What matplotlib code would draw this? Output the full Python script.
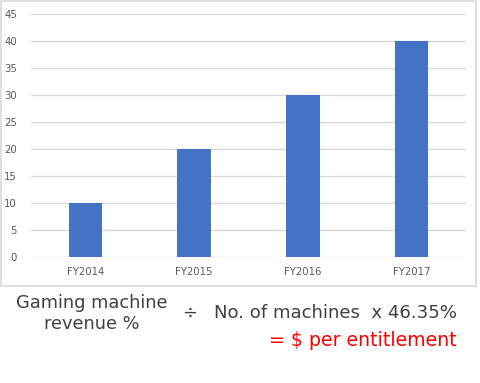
import matplotlib
matplotlib.use("Agg")
import matplotlib.pyplot as plt
from matplotlib.patches import Rectangle

categories = ["FY2014", "FY2015", "FY2016", "FY2017"]
values = [10, 20, 30, 40]
yticks = [0, 5, 10, 15, 20, 25, 30, 35, 40, 45]

W, H = 480, 383
fig = plt.figure(figsize=(W / 100, H / 100), dpi=100)
fig.patch.set_facecolor("white")

# chart border
fig.add_artist(Rectangle((1 / W, 1 - 286 / H), 475 / W, 285 / H, transform=fig.transFigure,
                         fill=False, edgecolor="#d9d9d9", linewidth=1.2))

ax = fig.add_axes([31 / W, 1 - 257 / H, 435 / W, 243 / H])
x = list(range(len(categories)))
ax.bar(x, values, width=0.31, color="#4472c4", zorder=3)
ax.set_xlim(-0.5, len(categories) - 0.5)
ax.set_ylim(0, 45)
ax.set_yticks(yticks)
ax.set_xticks(x)
ax.set_xticklabels(categories)
ax.yaxis.grid(True, color="#d9d9d9", linewidth=1)
for s in ax.spines.values():
    s.set_visible(False)
ax.tick_params(axis="both", length=0, labelsize=7.3, labelcolor="#595959")
ax.tick_params(axis="y", pad=10)
ax.tick_params(axis="x", pad=7)

tc = "#404040"
fs = 12.8
fig.text(92 / W, 1 - 303 / H, "Gaming machine", ha="center", va="center", fontsize=fs, color=tc)
fig.text(92 / W, 1 - 324 / H, "revenue %", ha="center", va="center", fontsize=fs, color=tc)
fig.text(190 / W, 1 - 313 / H, "÷", ha="center", va="center", fontsize=fs, color=tc)
fig.text(457 / W, 1 - 313 / H, "No. of machines  x 46.35%", ha="right", va="center", fontsize=13.1, color=tc)
fig.text(457 / W, 1 - 341 / H, "= $ per entitlement", ha="right", va="center", fontsize=13.6, color="#ff0000")

fig.savefig("out.png", dpi=100)
